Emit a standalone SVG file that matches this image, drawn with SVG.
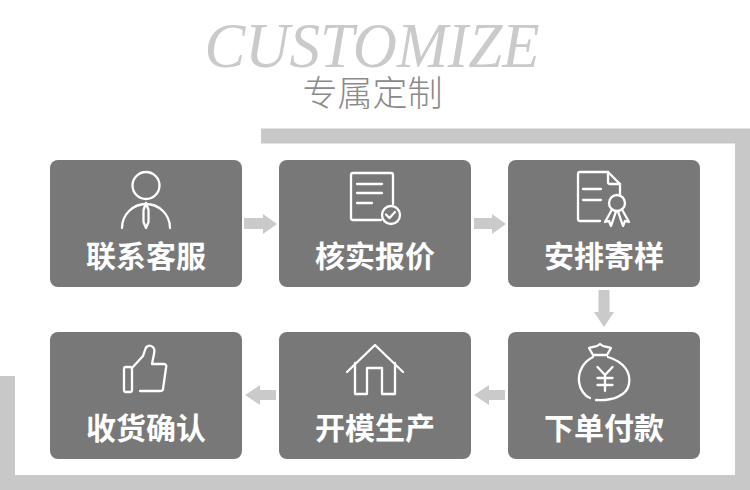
<svg xmlns="http://www.w3.org/2000/svg" width="750" height="490" viewBox="0 0 750 490">
<style>
.box{fill:#787878}
.lbl{font-family:"Noto Sans CJK SC","Noto Sans",sans-serif;font-weight:700;font-size:30px;fill:#ffffff;text-anchor:middle}
.ic{fill:none;stroke:#ffffff;stroke-width:2.3;stroke-linecap:round;stroke-linejoin:round}
.arr{fill:#cacaca}
</style>
<rect width="750" height="490" fill="#ffffff"/>
<g id="frame">
<path d="M261,136 H742.5 V482.5 H7.5 V376" fill="none" stroke="#c8c8c8" stroke-width="15"/>
</g>
<g id="title">
<text x="372" y="67" font-family="Liberation Serif,serif" font-style="italic" font-size="64" textLength="335" lengthAdjust="spacingAndGlyphs" fill="#cacaca" text-anchor="middle">CUSTOMIZE</text>
<text x="372.5" y="106" font-family="Noto Sans CJK SC,sans-serif" font-weight="300" font-size="35" fill="#8a8a8a" text-anchor="middle">专属定制</text>
</g>
<g id="connectors">
<polygon class="arr" points="244,218 263,218 263,214 277,224 263,234 263,229 244,229"/>
<polygon class="arr" points="474,218 492,218 492,214 506,224 492,234 492,229 474,229"/>
<polygon class="arr" points="598.5,290 609.5,290 609.5,312 614,312 604,327 594,312 598.5,312"/>
<polygon class="arr" points="505,390 489,390 489,385 474,395 489,405 489,400 505,400"/>
<polygon class="arr" points="276,390 260,390 260,385 245,395 260,405 260,400 276,400"/>
</g>
<g id="node-contact">
<rect class="box" x="50" y="160" width="192" height="127" rx="8"/>
<circle class="ic" cx="146" cy="185.5" r="13.5"/>
<path class="ic" d="M122,228 A24,24 0 0 1 170,228"/>
<path class="ic" d="M146,203 L148.5,210 L148.5,222 L146,228 L143.5,222 L143.5,210 Z" stroke-width="1.6"/>
<text class="lbl" x="146" y="267">联系客服</text>
</g>
<g id="node-quote">
<rect class="box" x="279" y="160" width="192" height="127" rx="8"/>
<path class="ic" d="M381,220 H353 A2,2 0 0 1 351,218 V175 A2,2 0 0 1 353,173 H391 A2,2 0 0 1 393,175 V204"/>
<path class="ic" d="M357,184 H382 M357,193 H382 M357,203 H372"/>
<circle class="ic" cx="391" cy="215" r="9"/>
<path class="ic" d="M386,214.5 L389.5,218 L395,212"/>
<text class="lbl" x="375" y="267">核实报价</text>
</g>
<g id="node-sample">
<rect class="box" x="508" y="160" width="192" height="127" rx="8"/>
<path class="ic" d="M600,221 H580 A2,2 0 0 1 578,219 V174 A2,2 0 0 1 580,172 H608 L620,184 V196"/>
<path class="ic" d="M608,172 V182 A2,2 0 0 0 610,184 H620"/>
<path class="ic" d="M583,189 H601 M583,200 H601"/>
<circle class="ic" cx="617" cy="203" r="8"/>
<path class="ic" d="M612,209.5 L605,222 L609,221 L611,226 L616,211.5"/>
<path class="ic" d="M622,209.5 L629,222 L625,221 L623,226 L618,211.5"/>
<text class="lbl" x="604" y="267">安排寄样</text>
</g>
<g id="node-pay">
<rect class="box" x="508" y="332" width="192" height="127" rx="8"/>
<path class="ic" d="M593,355 L589,348 C593,346 596,348 600,344 C604,348 607,346 611,348 L607,355 Z"/>
<path class="ic" d="M593,357 C583,362 578,372 579,382 C580,390 585,396 590,398"/>
<path class="ic" d="M596,400 C612,401 627,396 629,384 C631,372 624,362 608,357"/>
<path class="ic" d="M597.5,367 L605,375 L612.5,367 M597.5,378 H612.5 M597.5,385 H612.5 M605,375 V391"/>
<text class="lbl" x="604" y="439">下单付款</text>
</g>
<g id="node-produce">
<rect class="box" x="279" y="332" width="192" height="127" rx="8"/>
<path class="ic" stroke-width="3.4" stroke-linecap="round" stroke-linejoin="miter" d="M347,372 L375,345 L403,372"/>
<path class="ic" stroke-width="3.2" stroke-linejoin="miter" stroke-linecap="butt" d="M355,363 V394 H367 V368 H382 V394 H395 V363"/>
<text class="lbl" x="375" y="439">开模生产</text>
</g>
<g id="node-confirm">
<rect class="box" x="50" y="332" width="192" height="127" rx="8"/>
<rect class="ic" x="124" y="367" width="8" height="25" rx="2"/>
<path class="ic" d="M132,368 L143,356 L145,350 C146,346 149,345 151,346 C154,347 155,350 154,354 L152,364 H164 C166,364 167,366 166,368 L163,389 C163,390 162,391 160,391 H140"/>
<text class="lbl" x="146" y="439">收货确认</text>
</g>
</svg>
